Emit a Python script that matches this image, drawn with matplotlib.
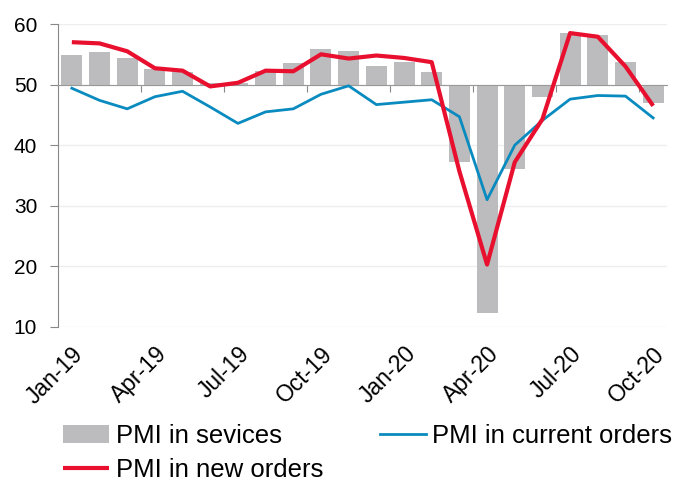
import numpy as np
import matplotlib
matplotlib.use("Agg")
import matplotlib.pyplot as plt

plt.rcParams['font.family'] = ['Liberation Sans', 'DejaVu Sans']

# monthly data, Jan-19 .. Oct-20
months = ['Jan-19', 'Feb-19', 'Mar-19', 'Apr-19', 'May-19', 'Jun-19',
          'Jul-19', 'Aug-19', 'Sep-19', 'Oct-19', 'Nov-19', 'Dec-19',
          'Jan-20', 'Feb-20', 'Mar-20', 'Apr-20', 'May-20', 'Jun-20',
          'Jul-20', 'Aug-20', 'Sep-20', 'Oct-20']
services = [54.9, 55.3, 54.4, 52.6, 52.0, 50.3, 50.2, 52.2, 53.6, 55.8, 55.6,
            53.1, 53.8, 52.0, 37.2, 12.3, 36.0, 47.9, 58.5, 58.2, 53.7, 47.0]
new_orders = [57.0, 56.8, 55.5, 52.7, 52.3, 49.7, 50.3, 52.3, 52.2, 55.0, 54.3,
              54.8, 54.4, 53.7, 35.7, 20.3, 37.2, 44.3, 58.5, 57.9, 53.0, 46.5]
current_orders = [49.4, 47.4, 46.0, 48.0, 48.9, 46.3, 43.6, 45.5, 46.0, 48.4, 49.8,
                  46.7, 47.1, 47.5, 44.7, 31.0, 40.0, 44.1, 47.6, 48.2, 48.1, 44.5]
base = 50
label_idx = [0, 3, 6, 9, 12, 15, 18, 21]

x = np.arange(len(months))
bar_h = np.array(services) - base

fig = plt.figure(figsize=(6.76, 4.82), dpi=100)
ax = fig.add_axes([58/676, 1 - 327/482, (667 - 58)/676, (327 - 24)/482])

b = ax.bar(x, bar_h, bottom=base, width=0.76, color='#BCBCBE', label='PMI in sevices', zorder=2)
l1, = ax.plot(x, current_orders, color='#0A8BBF', lw=2.0, label='PMI in current orders', zorder=3)
l2, = ax.plot(x, new_orders, color='#E8102E', lw=3.0, label='PMI in new orders', zorder=4,
              solid_capstyle='butt')

ax.set_xlim(-0.5, len(months) - 0.5)
ax.set_ylim(10, 60)
ax.set_yticks([10, 20, 30, 40, 50, 60])
ax.yaxis.grid(True, color='#EEEEEE', lw=1, zorder=0)
ax.set_axisbelow(True)

for s in ['top', 'right']:
    ax.spines[s].set_visible(False)
ax.spines['left'].set_color('#888888')
ax.spines['bottom'].set_position(('data', base))
ax.spines['bottom'].set_color('#999999')
ax.spines['bottom'].set_zorder(2.5)

ax.set_xticks(np.arange(2.5, len(months) - 1, 3))
ax.tick_params(axis='x', length=5, color='#888888', labelbottom=False)
ax.tick_params(axis='y', length=6, color='#888888', labelsize=15, pad=9)

sec = ax.secondary_xaxis('bottom')
sec.set_xticks([x[i] for i in label_idx])
sec.set_xticklabels([months[i] for i in label_idx])
sec.tick_params(length=0, labelsize=16.5, pad=11)
sec.spines['bottom'].set_visible(False)
for t in sec.get_xticklabels():
    t.set_rotation(45)
    t.set_ha('right')
    t.set_rotation_mode('anchor')

fig.legend([b, l2, l1], ['PMI in sevices', 'PMI in new orders', 'PMI in current orders'],
           loc='upper left', bbox_to_anchor=(63/676, 1 - 424/482), ncol=2, frameon=False,
           fontsize=18.5, handlelength=1.8, handletextpad=0.25, columnspacing=2.2,
           labelspacing=0.4, borderpad=0, borderaxespad=0)

fig.savefig('out.png', dpi=100)
